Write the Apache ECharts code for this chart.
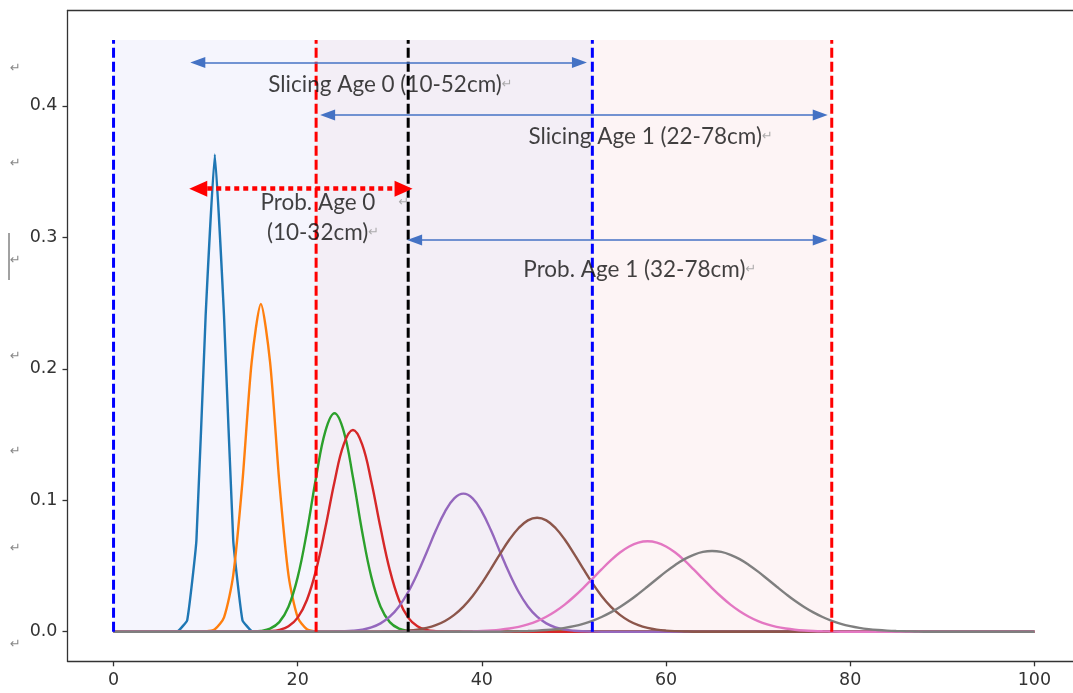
<!DOCTYPE html>
<html>
<head>
<meta charset="utf-8">
<script src="https://cdn.jsdelivr.net/npm/echarts@6/dist/echarts.min.js"></script>
<style>
html,body{margin:0;padding:0;background:#fff;}
#chart{width:1073px;height:693px;}
</style>
</head>
<body>
<div id="chart"></div>
<script>
// ---- data ----
const xTicks = [0, 20, 40, 60, 80, 100];
const yTicks = [0.0, 0.1, 0.2, 0.3, 0.4];
const xRange = [0, 100];

// curve values at integer x, starting at the given x (zero elsewhere)
const curveStarts = [7, 9, 14, 16, 24, 30, 38, 43];
const curve1 = [0.0005, 0.0088, 0.0695, 0.240, 0.363, 0.240, 0.0695, 0.0088, 0.0005];
const curve2 = [0.00007, 0.00022, 0.00189, 0.01095, 0.0430, 0.1141, 0.2051, 0.2493, 0.2051, 0.1141, 0.0430, 0.01095, 0.00189, 0.00022];
const curve3 = [0.00003, 0.00015, 0.00064, 0.00236, 0.0073, 0.0190, 0.0415, 0.0761, 0.1175, 0.1524, 0.1662, 0.1524, 0.1175, 0.0761, 0.0415, 0.0190, 0.0073, 0.00236, 0.00064, 0.00015, 0.00003];
const curve4 = [0.00009, 0.00038, 0.00135, 0.00409, 0.0107, 0.0241, 0.0470, 0.0788, 0.1141, 0.1425, 0.1534, 0.1425, 0.1141, 0.0788, 0.0470, 0.0241, 0.0107, 0.00409, 0.00135, 0.00038, 0.00009];
const curve5 = [0.00012, 0.0003, 0.00072, 0.00159, 0.00329, 0.00635, 0.0114, 0.0192, 0.0302, 0.0442, 0.0603, 0.0769, 0.0914, 0.1014, 0.1050, 0.1014, 0.0914, 0.0769, 0.0603, 0.0442, 0.0302, 0.0192, 0.0114, 0.00635, 0.00329, 0.00159, 0.00072, 0.0003, 0.00012];
const curve6 = [0.0002, 0.00043, 0.00085, 0.0016, 0.00289, 0.00497, 0.00816, 0.0128, 0.0191, 0.0272, 0.0370, 0.0480, 0.0594, 0.0701, 0.0789, 0.0847, 0.0867, 0.0847, 0.0789, 0.0701, 0.0594, 0.0480, 0.0370, 0.0272, 0.0191, 0.0128, 0.00816, 0.00497, 0.00289, 0.0016, 0.00085, 0.00043, 0.0002];
const curve7 = [0.00018, 0.00032, 0.00056, 0.00094, 0.00153, 0.00243, 0.00373, 0.00558, 0.00809, 0.0114, 0.0156, 0.0206, 0.0266, 0.0332, 0.0403, 0.0474, 0.0542, 0.0602, 0.0648, 0.0678, 0.0688, 0.0678, 0.0648, 0.0602, 0.0542, 0.0474, 0.0403, 0.0332, 0.0266, 0.0206, 0.0156, 0.0114, 0.00809, 0.00558, 0.00373, 0.00243, 0.00153, 0.00094, 0.00056, 0.00032, 0.00018];
const curve8 = [0.0002, 0.00033, 0.00054, 0.00086, 0.00133, 0.00201, 0.00297, 0.00428, 0.00603, 0.00831, 0.0112, 0.0147, 0.0188, 0.0235, 0.0288, 0.0344, 0.0401, 0.0457, 0.0508, 0.0552, 0.0585, 0.0607, 0.0614, 0.0607, 0.0585, 0.0552, 0.0508, 0.0457, 0.0401, 0.0344, 0.0288, 0.0235, 0.0188, 0.0147, 0.0112, 0.00831, 0.00603, 0.00428, 0.00297, 0.00201, 0.00133, 0.00086, 0.00054, 0.00033, 0.0002];
const curves = [curve1, curve2, curve3, curve4, curve5, curve6, curve7, curve8];

// boundaries (cm)
const blueBounds = [0, 52];
const redBounds = [22, 78];
const blackBounds = [32];
const boundTop = 0.45;
const bands = [[0, 22], [22, 52], [52, 78]];

// annotation arrows: [xStart, xEnd, y]
const arrowSlicing0 = [9.15, 50.6, 0.433];
const arrowSlicing1 = [23.25, 76.75, 0.393];
const arrowProb0 = [9.2, 31.5, 0.337];
const arrowProb1 = [32.7, 76.75, 0.298];

// annotation texts: [label, x, y, gap before return mark]
const notes = [
  ['Slicing Age 0 (10-52cm)', 16.75, 0.416, ''],
  ['Slicing Age 1 (22-78cm)', 45.0, 0.3765, ''],
  ['Prob. Age 0', 15.9, 0.3263, '    '],
  ['(10-32cm)', 16.6, 0.3034, ''],
  ['Prob. Age 1 (32-78cm)', 44.45, 0.2753, '']
];

// ---- build ----
const curveColors = ['#1f77b4', '#ff7f0e', '#2ca02c', '#d62728', '#9467bd', '#8c564b', '#e377c2', '#7f7f7f'];
const curveSmooth = [0.12, 0.25, 0.4, 0.4, 0.4, 0.4, 0.4, 0.4];
function fullCurve(start, vals) {
  const out = [];
  for (let x = xRange[0]; x <= xRange[1]; x++) {
    const i = x - start;
    out.push([x, (i >= 0 && i < vals.length) ? vals[i] : 0]);
  }
  return out;
}
const series = [];
series.push({
  type: 'line', data: [], z: 0, silent: true,
  markArea: {
    silent: true,
    data: bands.map((b, i) => [
      { xAxis: b[0], yAxis: 0, itemStyle: { color: ['#f5f5fd', '#f3eef6', '#fdf4f5'][i] } },
      { xAxis: b[1], yAxis: boundTop }
    ])
  }
});
curves.forEach((c, i) => {
  series.push({
    type: 'line', data: fullCurve(curveStarts[i], c), showSymbol: false, symbol: 'none',
    smooth: curveSmooth[i],
    lineStyle: { color: curveColors[i], width: 2.4 }, z: 2, silent: true, animation: false
  });
});
function vline(x, color) {
  return {
    type: 'line', data: [[x, 0], [x, boundTop]], symbol: 'none', z: 3, silent: true,
    lineStyle: { color: color, width: 3, type: [10, 4] }
  };
}
blueBounds.forEach(x => series.push(vline(x, '#0000ff')));
redBounds.forEach(x => series.push(vline(x, '#ff0000')));
blackBounds.forEach(x => series.push(vline(x, '#000000')));

function arrowPair(a) {
  return [{ coord: [a[0], a[2]] }, { coord: [a[1], a[2]] }];
}
series.push({
  type: 'line', data: [], z: 4, silent: true,
  markLine: {
    silent: true, animation: false,
    symbol: ['triangle', 'triangle'],
    symbolSize: [11, 15],
    label: { show: false },
    data: [arrowPair(arrowSlicing0), arrowPair(arrowSlicing1), arrowPair(arrowProb1)],
    lineStyle: { color: '#4472c4', width: 1.5, type: 'solid' },
    itemStyle: { color: '#4472c4' }
  }
});
series.push({
  type: 'line', data: [], z: 4, silent: true,
  markLine: {
    silent: true, animation: false,
    symbol: ['triangle', 'triangle'],
    symbolSize: [16, 18],
    label: { show: false },
    data: [arrowPair(arrowProb0)],
    lineStyle: { color: '#ff0000', width: 4.5, type: [5, 4] },
    itemStyle: { color: '#ff0000' }
  }
});
series.push({
  type: 'scatter', z: 5, silent: true, symbolSize: 1,
  itemStyle: { color: 'rgba(0,0,0,0)' },
  data: notes.map(n => ({ value: [n[1], n[2]], name: n[0], pad: n[3] })),
  label: {
    show: true, position: 'right', distance: 0,
    formatter: p => p.name + p.data.pad + '{r|↵}',
    fontFamily: 'Lato', fontSize: 22.5, color: '#111',
    rich: { r: { fontSize: 13, color: '#999', fontFamily: 'DejaVu Sans' } }
  }
});

const leftMarksY = [70, 165, 262, 358, 453, 550, 646];
const graphics = leftMarksY.map(y => ({
  type: 'text', left: 10, top: y - 8, silent: true,
  style: { text: '↵', fontSize: 13, fill: '#888', fontFamily: 'DejaVu Sans' }
}));
graphics.push({ type: 'line', silent: true, shape: { x1: 9, y1: 233, x2: 9, y2: 280 }, style: { stroke: '#444', lineWidth: 1 } });

const axisColor = '#333';
const chart = echarts.init(document.getElementById('chart'), null, { renderer: 'canvas' });
chart.setOption({
  animation: false,
  backgroundColor: '#ffffff',
  grid: { left: 67.5, right: 0, top: 10.5, bottom: 31.7, show: false },
  xAxis: [{
    type: 'value', min: -5, max: 104.2, position: 'bottom',
    axisLine: { show: true, onZero: false, lineStyle: { color: axisColor, width: 1.3 } },
    axisTick: { show: true, length: 5, customValues: xTicks, lineStyle: { color: axisColor, width: 1.3 } },
    axisLabel: { customValues: xTicks, fontFamily: 'DejaVu Sans', fontSize: 17.5, color: '#333', margin: 10 },
    splitLine: { show: false }
  }, {
    type: 'value', min: -5, max: 104.2, position: 'top',
    axisLine: { show: true, onZero: false, lineStyle: { color: axisColor, width: 1.3 } },
    axisTick: { show: false }, axisLabel: { show: false }, splitLine: { show: false }
  }],
  yAxis: {
    type: 'value', min: -0.0225, max: 0.4725,
    axisLine: { show: true, onZero: false, lineStyle: { color: axisColor, width: 1.3 } },
    axisTick: { show: true, length: 5, customValues: yTicks, lineStyle: { color: axisColor, width: 1.3 } },
    axisLabel: { customValues: yTicks, formatter: v => v.toFixed(1), fontFamily: 'DejaVu Sans', fontSize: 17.5, color: '#333', margin: 10 },
    splitLine: { show: false }
  },
  graphic: graphics,
  series: series
});
</script>
</body>
</html>
